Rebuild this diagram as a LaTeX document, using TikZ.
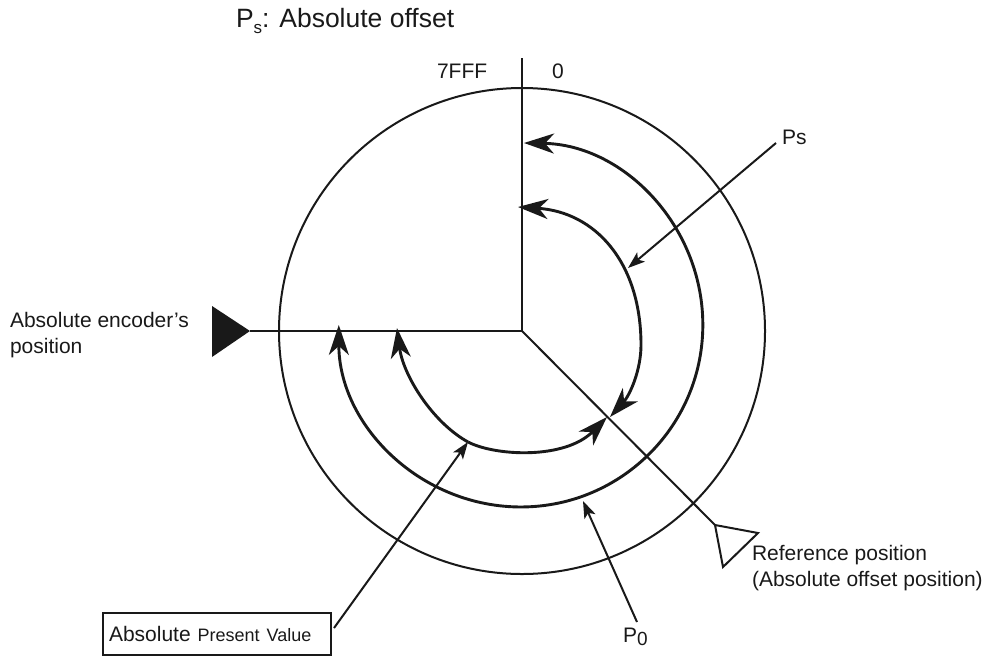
\documentclass[tikz,border=0pt]{standalone}
\usepackage{fontspec}
\setmainfont{Liberation Sans}
\usetikzlibrary{arrows.meta}
\begin{document}
\begin{tikzpicture}[x=1pt,y=-1pt,every node/.style={inner sep=0pt, outer sep=0pt, font=\fontsize{21}{25}\selectfont, text=black!90},
  wire/.style={line width=2pt,black!90},
  curve/.style={line width=2.9pt,black!90},
  tiptip/.tip={Stealth[length=30pt,width=20pt,inset=9pt]},
  leader/.style={line width=2pt,black!90,-{Stealth[length=17pt,width=12pt,inset=4pt]}}]
\useasboundingbox (0,0) rectangle (987,656);
\node[circle,draw=black!90,line width=2pt,minimum size=486pt] (dial) at (522,331) {};
\coordinate (top) at (522,58);
\coordinate (enc) at (250,331);
\coordinate (ref) at (715,525);
\draw[wire] (top) -- (dial.center);
\draw[wire] (enc) -- (dial.center);
\draw[wire] (ref) -- (dial.center);
\draw[fill=black!90,draw=none] (212,306) -- (212,357) -- (enc) -- cycle;
\draw[wire,line join=miter] (ref) -- (758,533) -- (723,567) -- cycle;
% offset curves
\draw[curve,tiptip-tiptip] (524,143) arc[start angle=-89,end angle=180,radius=182];
\draw[curve,tiptip-tiptip] (518,207) .. controls (595,212) and (641,262) .. (641,345) .. controls (641,370) and (630,395) .. (610,417);
\draw[curve,tiptip-] (397,328) .. controls (403,375) and (432,422) .. (468,442);
\draw[curve,-tiptip] (468,442) .. controls (495,456) and (565,460) .. (607,417);
% labels
\node[anchor=base west,font=\fontsize{26.5}{30}\selectfont] (title) at (236,27) {P\raisebox{-6pt}{\fontsize{17}{20}\selectfont s}: Absolute offset};
\node[anchor=base west] (seven) at (437,78) {7FFF};
\node[anchor=base] (zero) at (558,78) {0};
\node[anchor=base west] (ps) at (782,144) {Ps};
\node[anchor=west,align=left] (encoder) at (10,335) {Absolute encoder's\\[1pt]position};
\node[anchor=west,align=left] (reflabel) at (752,568) {Reference position\\[1pt](Absolute offset position)};
\node[anchor=base west] (pzero) at (623,642) {P\raisebox{-3pt}{\fontsize{19}{22}\selectfont 0}};
\node[draw=black!90,line width=2pt,anchor=north west,minimum width=228pt,minimum height=42pt,text width=216pt,align=left] (present) at (103,613) {\raisebox{-3pt}{Absolute {\fontsize{18}{22}\selectfont Present Value}}};
\coordinate (psend) at (776,143);
\coordinate (pzeroend) at (637,622);
\coordinate (presentend) at (334,628);
\draw[leader] (psend) -- (628,268);
\draw[leader] (pzeroend) -- (583,501);
\draw[leader] (presentend) -- (468,442);
\end{tikzpicture}
\end{document}
